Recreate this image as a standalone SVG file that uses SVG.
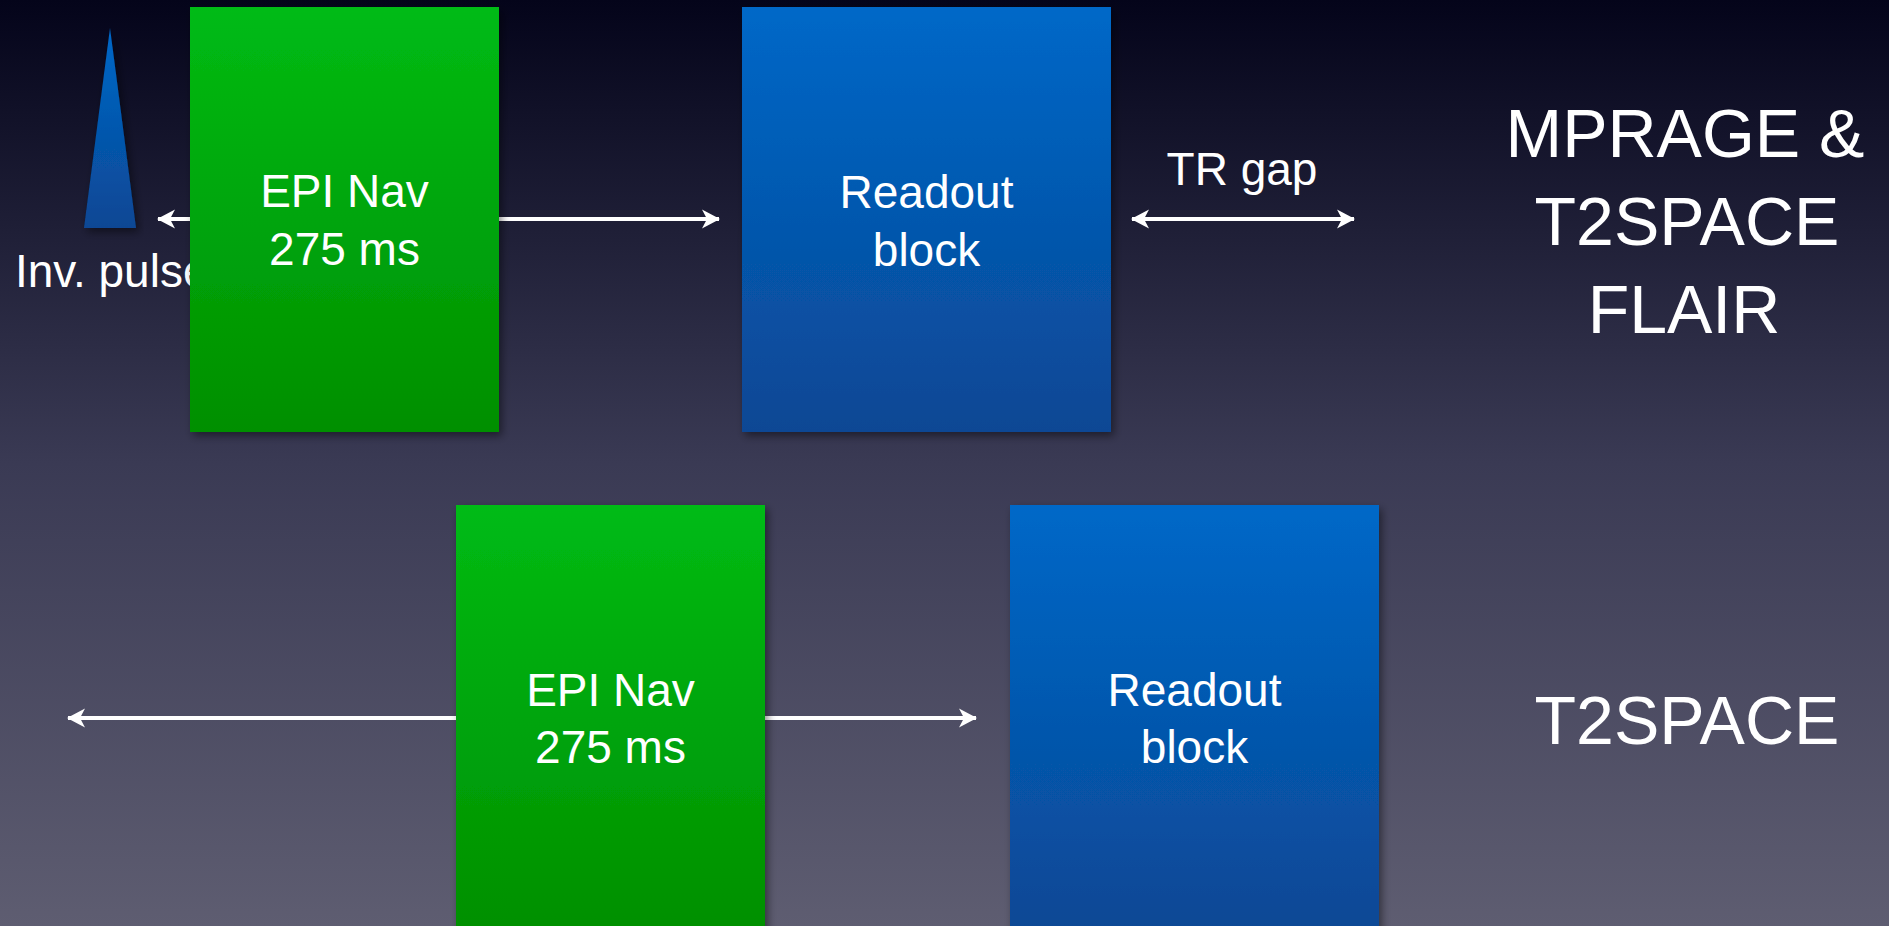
<svg xmlns="http://www.w3.org/2000/svg" width="1889" height="926" viewBox="0 0 1889 926">
<defs>
<linearGradient id="bg" x1="0" y1="0" x2="0" y2="1">
<stop offset="0" stop-color="#04041a"/>
<stop offset="0.5" stop-color="#3a3a54"/>
<stop offset="1" stop-color="#5e5d71"/>
</linearGradient>
<linearGradient id="green" x1="0" y1="0" x2="0" y2="1">
<stop offset="0" stop-color="#00bb14"/>
<stop offset="1" stop-color="#008f00"/>
</linearGradient>
<linearGradient id="blue" x1="0" y1="0" x2="0" y2="1">
<stop offset="0" stop-color="#0068c8"/>
<stop offset="1" stop-color="#0a4794"/>
</linearGradient>
<filter id="shadow" x="-10%" y="-10%" width="125%" height="125%">
<feDropShadow dx="3" dy="4" stdDeviation="4" flood-color="#000" flood-opacity="0.45"/>
</filter>
<marker id="ah" markerUnits="userSpaceOnUse" markerWidth="24" markerHeight="24" refX="19" refY="12" orient="auto-start-reverse" viewBox="0 0 24 24">
<path d="M2,2.5 L20,12 L2,21.5 L7,12 Z" fill="#ffffff"/>
</marker>
</defs>
<style>
.lbl{font-family:"Liberation Sans",Arial,sans-serif;fill:#ffffff;font-size:46px;text-anchor:middle}
.big{font-family:"Liberation Sans",Arial,sans-serif;fill:#ffffff;font-size:68px;text-anchor:middle}
.conn{stroke:#ffffff;stroke-width:4;fill:none;marker-start:url(#ah);marker-end:url(#ah)}
</style>
<rect x="0" y="0" width="1889" height="926" fill="url(#bg)"/>

<g id="inv-pulse">
<polygon points="110,28 136,228 84,228" fill="url(#blue)" filter="url(#shadow)"/>
<text x="15" y="287" class="lbl" style="text-anchor:start">Inv. pulse</text>
</g>

<g id="connectors">
<line class="conn" x1="158" y1="219" x2="719" y2="219"/>
<line class="conn" x1="1132" y1="219" x2="1354" y2="219"/>
<line class="conn" x1="68" y1="718" x2="976" y2="718"/>
</g>

<g id="epi-nav-top">
<rect x="190" y="7" width="309" height="425" fill="url(#green)" filter="url(#shadow)"/>
<text x="344.5" y="207" class="lbl">EPI Nav</text>
<text x="344.5" y="265" class="lbl">275 ms</text>
</g>

<g id="readout-top">
<rect x="742" y="7" width="369" height="425" fill="url(#blue)" filter="url(#shadow)"/>
<text x="926.5" y="208" class="lbl">Readout</text>
<text x="926.5" y="266" class="lbl">block</text>
</g>

<g id="tr-gap">
<text x="1242" y="185" class="lbl">TR gap</text>
</g>

<g id="label-top">
<text x="1685" y="157" class="big">MPRAGE &amp;</text>
<text x="1687" y="245" class="big">T2SPACE</text>
<text x="1684" y="333" class="big">FLAIR</text>
</g>

<g id="epi-nav-bottom">
<rect x="456" y="505" width="309" height="430" fill="url(#green)" filter="url(#shadow)"/>
<text x="610.5" y="706" class="lbl">EPI Nav</text>
<text x="610.5" y="763" class="lbl">275 ms</text>
</g>

<g id="readout-bottom">
<rect x="1010" y="505" width="369" height="430" fill="url(#blue)" filter="url(#shadow)"/>
<text x="1194.5" y="706" class="lbl">Readout</text>
<text x="1194.5" y="763" class="lbl">block</text>
</g>

<g id="label-bottom">
<text x="1687" y="744" class="big">T2SPACE</text>
</g>
</svg>
